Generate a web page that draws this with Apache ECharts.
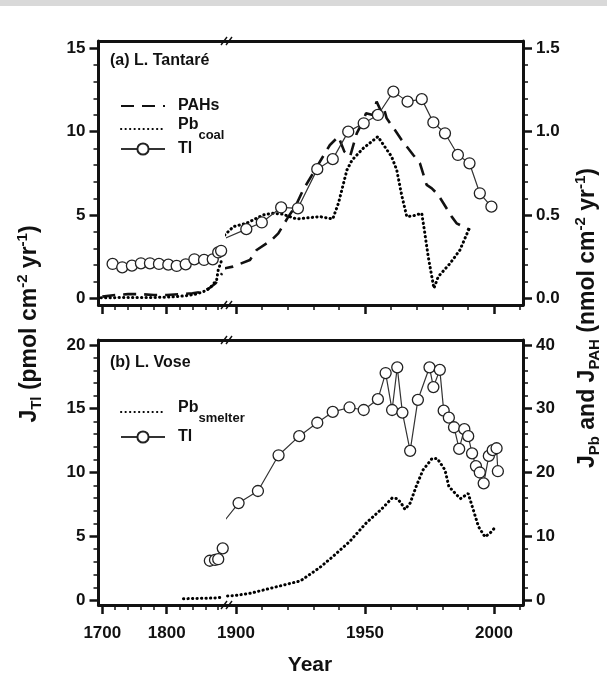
<!DOCTYPE html>
<html><head><meta charset="utf-8">
<script src="https://cdn.jsdelivr.net/npm/echarts@6/dist/echarts.min.js"></script>
<style>html,body{margin:0;padding:0;background:#fff}#c{width:607px;height:677px}</style>
</head><body><div id="c"></div>
<script>
// ---------- DATA ----------
// (a) L. Tantaré
const tantareTlYears = [1716,1731,1746,1760,1774,1788,1802.5,1815.5,1829.5,1843,1858,1871.5,1880,1884.5,
  1904,1910,1917.5,1924,1931.5,1937.5,1943.5,1949.5,1955,1961,1966.5,1972,1976.5,1981,1986,1990.5,1994.5,1999];
const tantareTl = [2.06,1.86,1.96,2.1,2.1,2.06,2.02,1.94,2.04,2.34,2.3,2.34,2.75,2.85,
  4.15,4.55,5.45,5.4,7.75,8.35,10.0,10.5,11.0,12.4,11.8,11.95,10.55,9.9,8.6,8.1,6.3,5.5];
const tantarePahYears = [1700,1720,1740,1760,1780,1800,1820,1840,1855,1866,1876,1886,
  1898.8,1905.4,1908,1913.8,1916.4,1920.3,1923,1926,1931,1936.4,1939.7,1942,1944.2,1946.8,1949.1,1950.4,
  1953,1954.5,1956,1957.1,1958.4,1961.6,1964.2,1968.7,1971.3,1973.9,1975.9,1978.4,1980.4,1983.6,1985.5,1990.7];
const tantarePah = [0.01,0.02,0.025,0.025,0.02,0.02,0.025,0.03,0.04,0.06,0.09,0.15,
  0.19,0.23,0.29,0.35,0.39,0.49,0.55,0.65,0.78,0.92,0.97,0.88,0.85,0.99,1.06,1.11,
  1.1,1.18,1.13,1.15,1.08,1.01,0.95,0.86,0.81,0.68,0.66,0.62,0.57,0.49,0.45,0.41];
const tantarePbYears = [1698,1720,1740,1760,1780,1800,1815,1831,1845,1857,1867,1877.5,1880,1885.5,
  1899,1904,1910.5,1914,1918,1923.5,1932.5,1937.5,1939.7,1943,1945,1949.3,1955,1960.3,1962.3,1964.2,
  1966.2,1968.7,1972,1973,1974.5,1975.9,1976.7,1978.4,1983,1986.8,1990.7];
const tantarePb = [0.003,0.004,0.005,0.005,0.005,0.007,0.01,0.016,0.025,0.04,0.06,0.11,0.17,0.23,
  0.43,0.45,0.5,0.51,0.505,0.476,0.49,0.476,0.57,0.77,0.83,0.9,0.97,0.85,0.77,0.62,
  0.49,0.495,0.51,0.41,0.25,0.13,0.06,0.13,0.21,0.29,0.43];
// (b) L. Vose
const voseTlYears = [1867,1875,1880,1887,
  1901,1908.5,1916.5,1924.5,1931.5,1937.5,1944,1949.5,1955,1958,1960.5,1962.5,1964.5,1967.5,1970.5,
  1975,1976.5,1979,1980.5,1982.5,1984.5,1986.5,1988.5,1990,1991.5,1993,1994.5,1996,1998,1999.5,2001,2001.5];
const voseTl = [3.08,3.14,3.2,4.05,
  7.6,8.55,11.35,12.85,13.9,14.75,15.1,14.9,15.75,17.8,14.9,18.25,14.7,11.7,15.7,
  18.25,16.7,18.05,14.85,14.3,13.55,11.85,13.4,12.85,11.5,10.5,10.0,9.15,11.3,11.75,11.9,10.1];
const vosePbYears = [1826,1835,1845,1852,1860,1870,1880,1888,
  1899,1905.5,1912,1918.5,1925,1932.5,1937.5,1944,1950.5,1956.5,1960.5,1962.5,1964,1965.5,1967.5,
  1970,1972.5,1976,1978,1981,1982.5,1985.5,1987,1990,1992,1994,1996.5,1998.5,2000];
const vosePb = [0.2,0.22,0.25,0.26,0.28,0.3,0.35,0.5,
  0.67,1.05,1.7,2.35,3.0,5.1,6.8,9.15,12.1,14.3,16.0,15.9,15.2,14.2,15.2,
  18.0,20.4,22.2,22.2,20.4,17.8,16.5,15.9,16.7,14.1,11.5,9.9,10.5,11.2];
// tick values
const xMajorLeft = [1700,1800];
const xMinorLeft = [1720,1740,1760,1780,1820,1840,1860,1880];
const xMajorRight = [1900,1950,2000];
const xMinorRight = [1910,1920,1930,1940,1960,1970,1980,1990,2010];
const yMajorA = [0,5,10,15];
const yMinorA = [1,2,3,4,6,7,8,9,11,12,13,14];
const rMajorA = [0,0.5,1.0,1.5];
const rMinorA = [0.1,0.2,0.3,0.4,0.6,0.7,0.8,0.9,1.1,1.2,1.3,1.4];
const yMajorB = [0,5,10,15,20];
const yMinorB = [1,2,3,4,6,7,8,9,11,12,13,14,16,17,18,19];
const rMajorB = [0,10,20,30,40];
const rMinorB = [2,4,6,8,12,14,16,18,22,24,26,28,32,34,36,38];

// ---------- LAYOUT ----------
const FONT = '"Liberation Sans", Arial, Helvetica, sans-serif';
const INK = '#111';
const X0 = 98.5, XB = 227, X1 = 523;
const LEFT_MIN = 1694.1, LEFT_MAX = 1893.63, RIGHT_MIN = 1896.51, RIGHT_MAX = 2011.24;
const BREAK_YEAR = 1895;
const panels = [
  {top:41, height:264, yMin:-0.402, yMax:15.438, yMaj:yMajorA, yMin2:yMinorA,
   rMin:-0.0402, rMax:1.5438, rMaj:rMajorA, rMin2:rMinorA, rFmt:v=>v.toFixed(1), xLabels:false},
  {top:340, height:265, yMin:-0.392, yMax:20.392, yMaj:yMajorB, yMin2:yMinorB,
   rMin:-0.784, rMax:40.784, rMaj:rMajorB, rMin2:rMinorB, rFmt:v=>String(v), xLabels:true}
];
const labelFont = {fontFamily:FONT, fontSize:17, fontWeight:'bold', color:INK};

const grid = [], xAxis = [], yAxis = [];
panels.forEach((P, p) => {
  [true, false].forEach(isLeft => {
    const g = grid.length;
    grid.push({left: isLeft ? X0 : XB, top: P.top, width: isLeft ? XB - X0 : X1 - XB, height: P.height});
    const xmin = isLeft ? LEFT_MIN : RIGHT_MIN, xmax = isLeft ? LEFT_MAX : RIGHT_MAX;
    const maj = isLeft ? xMajorLeft : xMajorRight, mnr = isLeft ? xMinorLeft : xMinorRight;
    const xc = {gridIndex:g, type:'value', min:xmin, max:xmax, splitLine:{show:false}};
    xAxis.push(Object.assign({}, xc, {position:'bottom',
      axisLine:{show:true, onZero:false, lineStyle:{color:INK, width:3}},
      axisTick:{show:true, inside:false, length:9, lineStyle:{color:INK, width:2.5}, customValues:maj},
      axisLabel:Object.assign({show:P.xLabels, customValues:maj, margin:20, formatter:v=>String(v)}, labelFont)}));
    xAxis.push(Object.assign({}, xc, {position:'bottom',
      axisLine:{show:false, onZero:false},
      axisTick:{show:true, inside:false, length:5, lineStyle:{color:INK, width:1.5}, customValues:mnr},
      axisLabel:{show:false}}));
    xAxis.push(Object.assign({}, xc, {position:'top',
      axisLine:{show:true, onZero:false, lineStyle:{color:INK, width:3}},
      axisTick:{show:false}, axisLabel:{show:false}}));
    const yc = (mn, mx) => ({gridIndex:g, type:'value', min:mn, max:mx, splitLine:{show:false}});
    if (isLeft) {
      yAxis.push(Object.assign(yc(P.yMin, P.yMax), {position:'left',
        axisLine:{show:true, onZero:false, lineStyle:{color:INK, width:3}},
        axisTick:{show:true, length:9, lineStyle:{color:INK, width:2.5}, customValues:P.yMaj},
        axisLabel:Object.assign({show:true, customValues:P.yMaj, margin:13}, labelFont)}));
      yAxis.push(Object.assign(yc(P.yMin, P.yMax), {position:'left',
        axisLine:{show:false}, axisLabel:{show:false},
        axisTick:{show:true, length:5, lineStyle:{color:INK, width:1.5}, customValues:P.yMin2}}));
      yAxis.push(Object.assign(yc(P.rMin, P.rMax), {position:'right', show:false}));
    } else {
      yAxis.push(Object.assign(yc(P.yMin, P.yMax), {position:'left', show:false}));
      yAxis.push(Object.assign(yc(P.rMin, P.rMax), {position:'right',
        axisLine:{show:true, onZero:false, lineStyle:{color:INK, width:3}},
        axisTick:{show:true, length:9, lineStyle:{color:INK, width:2.5}, customValues:P.rMaj},
        axisLabel:Object.assign({show:true, customValues:P.rMaj, margin:13, formatter:P.rFmt}, labelFont)}));
      yAxis.push(Object.assign(yc(P.rMin, P.rMax), {position:'right',
        axisLine:{show:false}, axisLabel:{show:false},
        axisTick:{show:true, length:5, lineStyle:{color:INK, width:1.5}, customValues:P.rMin2}}));
    }
  });
});

// ---------- SERIES ----------
const pts = (ys, vs) => ys.map((y, i) => [y, vs[i]]);
const styles = {
  dashed: {symbol:'none', lineStyle:{color:INK, width:2.6, type:[13, 8]}, itemStyle:{color:INK}, z:2},
  dotted: {symbol:'none', lineStyle:{color:'#000', width:3, type:[0.3, 4.2], cap:'round'}, itemStyle:{color:INK}, z:2},
  circle: {symbol:'circle', symbolSize:11, showSymbol:true,
           itemStyle:{color:'#fff', borderColor:'#222', borderWidth:1.3},
           lineStyle:{color:'#333', width:1.2}, z:4}
};
const series = [];
function addSeries(name, ys, vs, panel, nmol, style) {
  const all = pts(ys, vs);
  const leftPts = all.filter(d => d[0] < BREAK_YEAR);
  // right segment keeps the last pre-break point so the joining line is cut at the break
  const firstRight = all.findIndex(d => d[0] >= BREAK_YEAR);
  const rightPts = all.slice(Math.max(0, firstRight - 1));
  [0, 1].forEach(side => {
    const g = panel * 2 + side;
    const yIdx = g * 3 + (nmol ? (side === 0 ? 2 : 1) : 0);
    series.push(Object.assign({type:'line', name, data: side === 0 ? leftPts : rightPts,
      xAxisIndex:g*3, yAxisIndex:yIdx, clip:true, animation:false, silent:true},
      JSON.parse(JSON.stringify(style))));
  });
}
addSeries('PAHs', tantarePahYears, tantarePah, 0, true, styles.dashed);
addSeries('Pbcoal', tantarePbYears, tantarePb, 0, true, styles.dotted);
addSeries('Tl', tantareTlYears, tantareTl, 0, false, styles.circle);
addSeries('Pbsmelter', vosePbYears, vosePb, 1, true, styles.dotted);
addSeries('Tl', voseTlYears, voseTl, 1, false, styles.circle);

// ---------- LEGENDS ----------
const legendRich = {
  n: {fontFamily:FONT, fontSize:16, fontWeight:'bold', color:INK, padding:[0,0,0,8]},
  nt:{fontFamily:FONT, fontSize:16, fontWeight:'bold', color:INK, padding:[0,0,0,8], verticalAlign:'top'},
  s: {fontFamily:FONT, fontSize:13, fontWeight:'bold', color:INK, padding:[12,0,0,0]}
};
function legendFmt(name) {
  if (name === 'Pbcoal') return '{nt|Pb}{s|coal}';
  if (name === 'Pbsmelter') return '{nt|Pb}{s|smelter}';
  return '{n|' + name + '}';
}
function mkLegend(name, cy, hideSymbol, shift) {
  const L = {data:[name], left:120, top:cy - shift, itemWidth:44, itemHeight:14, padding:0,
    selectedMode:false, formatter:legendFmt,
    textStyle:{fontFamily:FONT, fontSize:16, fontWeight:'bold', color:INK, rich:legendRich}};
  if (hideSymbol) L.itemStyle = {opacity:0};
  return L;
}
const legend = [mkLegend('PAHs', 106, true, 8), mkLegend('Pbcoal', 129, true, 12.5),
                mkLegend('Tl', 149, false, 8),
                mkLegend('Pbsmelter', 412, true, 12.5), mkLegend('Tl', 437, false, 8)];

// ---------- DECORATIONS ----------
const titleRich = {
  m: {fontFamily:FONT, fontSize:23, fontWeight:'bold', fill:INK, color:INK},
  s: {fontFamily:FONT, fontSize:15, fontWeight:'bold', fill:INK, color:INK, padding:[14,0,0,0]},
  p: {fontFamily:FONT, fontSize:15, fontWeight:'bold', fill:INK, color:INK, padding:[0,0,15,0]}
};
const graphic = [
  {type:'rect', shape:{x:0, y:0, width:607, height:6}, style:{fill:'#d9d9d9'}, silent:true},
  {type:'text', x:110, y:61, style:{text:'(a) L. Tantaré', fontFamily:FONT, fontSize:16, fontWeight:'bold',
    fill:INK, verticalAlign:'middle'}},
  {type:'text', x:110, y:363, style:{text:'(b) L. Vose', fontFamily:FONT, fontSize:16, fontWeight:'bold',
    fill:INK, verticalAlign:'middle'}},
  {type:'text', x:310, y:665, style:{text:'Year', fontFamily:FONT, fontSize:21, fontWeight:'bold',
    fill:INK, align:'center', verticalAlign:'middle'}},
  {type:'text', x:30, y:324, rotation:Math.PI/2, style:{
    text:'{m|J}{s|Tl}{m| (pmol cm}{p|-2}{m| yr}{p|-1}{m|)}', rich:titleRich,
    fontFamily:FONT, fontSize:23, fontWeight:'bold', fill:INK, align:'center', verticalAlign:'middle'}},
  {type:'text', x:588, y:318, rotation:Math.PI/2, style:{
    text:'{m|J}{s|Pb}{m| and J}{s|PAH}{m| (nmol cm}{p|-2}{m| yr}{p|-1}{m|)}', rich:titleRich,
    fontFamily:FONT, fontSize:23, fontWeight:'bold', fill:INK, align:'center', verticalAlign:'middle'}}
];
// axis-break marks "//"
[41, 305, 340, 605].forEach(y => {
  [-3, 2].forEach(dx => {
    graphic.push({type:'line', shape:{x1:XB + dx - 3, y1:y + 4, x2:XB + dx + 3, y2:y - 4},
      style:{stroke:INK, lineWidth:1.4}, silent:true, z:100});
  });
});

const chart = echarts.init(document.getElementById('c'), null, {renderer:'canvas'});
chart.setOption({animation:false, backgroundColor:'#fff', grid, xAxis, yAxis, series, legend, graphic});
</script>
</body></html>
